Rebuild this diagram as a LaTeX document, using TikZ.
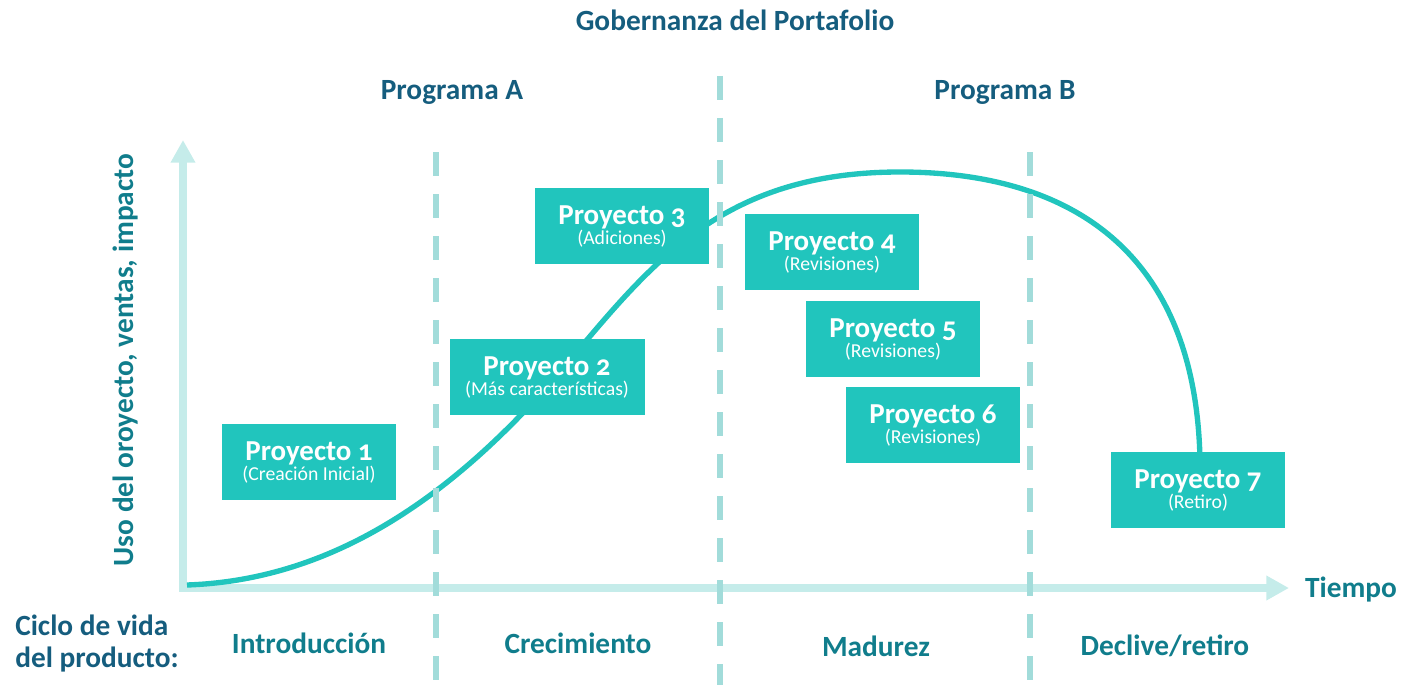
\documentclass[tikz,border=0pt]{standalone}
\usepackage{fontspec}
\setmainfont{Carlito}[Numbers=OldStyle]
\usetikzlibrary{arrows.meta}
\definecolor{boxteal}{HTML}{21C5BD}
\definecolor{axiscol}{HTML}{C5ECEA}
\definecolor{dashcol}{HTML}{A2DCDA}
\definecolor{headblue}{HTML}{155D7E}
\definecolor{phaseteal}{HTML}{107D8C}
\newcommand{\proytxt}[2]{{\fontsize{21.7}{21.7}\selectfont\bfseries Proyecto #1}\\(#2)}

\begin{document}
\begin{tikzpicture}[x=0.75pt,y=-0.75pt,
    proybox/.style={fill=boxteal, text=white, align=center, inner sep=0pt,
        minimum width=130.5pt, minimum height=57pt, font=\fontsize{14.8}{15}\selectfont},
    headtxt/.style={text=headblue, font=\fontsize{22}{24}\selectfont\bfseries, inner sep=0pt},
    phasetxt/.style={text=phaseteal, font=\fontsize{22}{24}\selectfont\bfseries, inner sep=0pt},
    phaseline/.style={dashcol, line width=4.5pt, dash pattern=on 18pt off 13.5pt},
    lifecurve/.style={boxteal, line width=4pt}]
    \useasboundingbox (0,0) rectangle (1404,685);

    % axes
    \coordinate (ytop) at (183,140);
    \coordinate (orig) at (183,588);
    \coordinate (xend) at (1289,588);
    \draw[axiscol, line width=6pt, line join=miter,
        {Triangle[width=17.5pt,length=17pt]}-{Triangle[width=17.5pt,length=17pt]}]
        (ytop) -- (orig) -- (xend);

    % life cycle curve
    \draw[lifecurve] (187,585) .. controls (330,580) and (450,500) .. (560,372)
        .. controls (650,265) and (720,172) .. (900,172)
        .. controls (1080,172) and (1196,260) .. (1200,460);

    % phase borders
    \draw[phaseline] (436,152) -- (436,685);
    \draw[phaseline] (720,76) -- (720,685);
    \draw[phaseline] (1030,152) -- (1030,685);

    % projects
    \node[proybox] (p1) at (309,462) {\proytxt{1}{Creación Inicial}};
    \node[proybox, minimum width=146.25pt] (p2) at (547,377) {\proytxt{2}{Más características}};
    \node[proybox] (p3) at (622,226) {\proytxt{3}{Adiciones}};
    \node[proybox] (p4) at (832,252) {\proytxt{4}{Revisiones}};
    \node[proybox] (p5) at (893,339) {\proytxt{5}{Revisiones}};
    \node[proybox] (p6) at (933,425) {\proytxt{6}{Revisiones}};
    \node[proybox] (p7) at (1198,490) {\proytxt{7}{Retiro}};

    % headings
    \node[headtxt, anchor=base] (gob) at (735,31) {Gobernanza del Portafolio};
    \node[headtxt, anchor=base] (proga) at (452,100) {Programa A};
    \node[headtxt, anchor=base] (progb) at (1005,100) {Programa B};
    \node[phasetxt, anchor=base] (tiempo) at (1351,597) {Tiempo};
    \node[phasetxt, anchor=base, rotate=90] (uso) at (133,360) {Uso del oroyecto, ventas, impacto};

    % phases
    \node[headtxt, anchor=west, align=left] (ciclo) at (15,644) {Ciclo de vida\\del producto:};
    \node[phasetxt, anchor=base] (intro) at (309,653) {Introducción};
    \node[phasetxt, anchor=base] (crec) at (578,653) {Crecimiento};
    \node[phasetxt, anchor=base] (mad) at (876,656) {Madurez};
    \node[phasetxt, anchor=base] (decl) at (1165,655) {Declive/retiro};
\end{tikzpicture}
\end{document}
